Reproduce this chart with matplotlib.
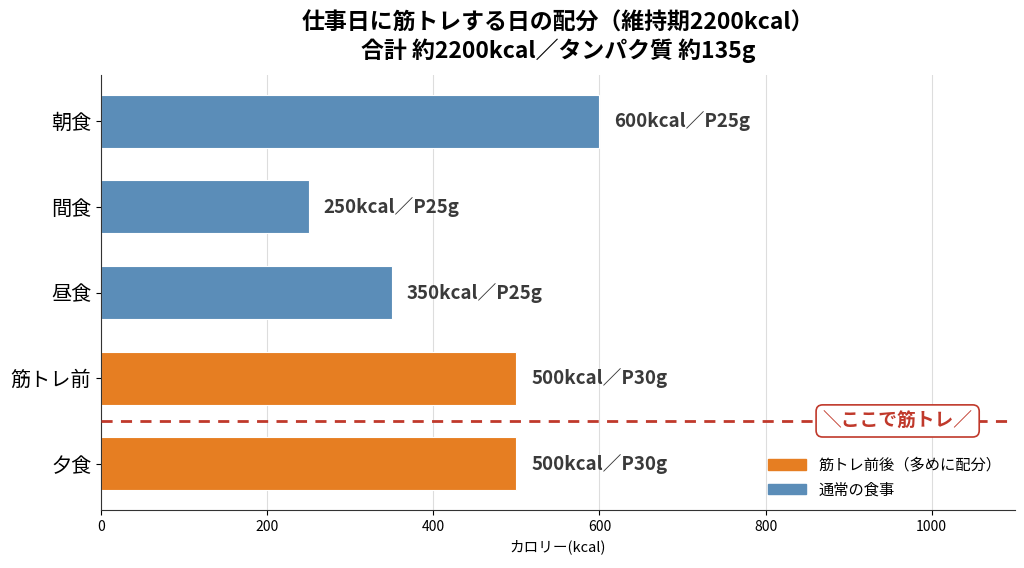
import matplotlib.pyplot as plt
from matplotlib.patches import Patch

plt.rcParams['font.family'] = ['Noto Sans CJK JP', 'DejaVu Sans']

meals = ["朝食", "間食", "昼食", "筋トレ前", "夕食"]
kcal = [600, 250, 350, 500, 500]
protein = [25, 25, 25, 30, 30]
is_training = [False, False, False, True, True]

c_train = "#e67e22"
c_normal = "#5b8db8"
c_line = "#c0392b"

colors = [c_train if t else c_normal for t in is_training]

fig, ax = plt.subplots(figsize=(10.24, 5.68), dpi=100)
fig.subplots_adjust(left=0.0986, right=0.991, top=0.868, bottom=0.102)

ax.barh(meals, kcal, height=0.62, color=colors, edgecolor="white", linewidth=0.8, zorder=2)
ax.invert_yaxis()

for i, (k, p) in enumerate(zip(kcal, protein)):
    ax.text(k + 18, i, f"{k}kcal／P{p}g", va="center", ha="left",
            fontsize=13.5, fontweight="bold", color="#3a3a3a")

ax.set_xlim(0, 1100)
ax.set_xticks([0, 200, 400, 600, 800, 1000])
ax.xaxis.grid(True, color="#dddddd", linewidth=0.8, zorder=0)
ax.set_axisbelow(True)
ax.spines["top"].set_visible(False)
ax.spines["right"].set_visible(False)
ax.spines["left"].set_color("#333333")
ax.spines["bottom"].set_color("#333333")
ax.tick_params(axis="y", labelsize=14.5)
ax.tick_params(axis="x", labelsize=10)
ax.set_xlabel("カロリー(kcal)", fontsize=10.5)

ax.axhline(3.5, color=c_line, linestyle="--", linewidth=2, dashes=(4, 3), zorder=3)
ax.text(959, 3.5, "＼ここで筋トレ／", ha="center", va="center", fontsize=13.5,
        fontweight="bold", color=c_line, zorder=4,
        bbox=dict(boxstyle="round,pad=0.35", facecolor="white", edgecolor=c_line, linewidth=1.2))

handles = [Patch(color=c_train, label="筋トレ前後（多めに配分）"),
           Patch(color=c_normal, label="通常の食事")]
ax.legend(handles=handles, loc="lower right", frameon=False, fontsize=11,
          handlelength=2.5, bbox_to_anchor=(1.0, -0.005))

ax.set_title("仕事日に筋トレする日の配分（維持期2200kcal）\n合計 約2200kcal／タンパク質 約135g",
             fontsize=16.5, fontweight="bold", pad=12)

fig.savefig("out.png", dpi=100)
